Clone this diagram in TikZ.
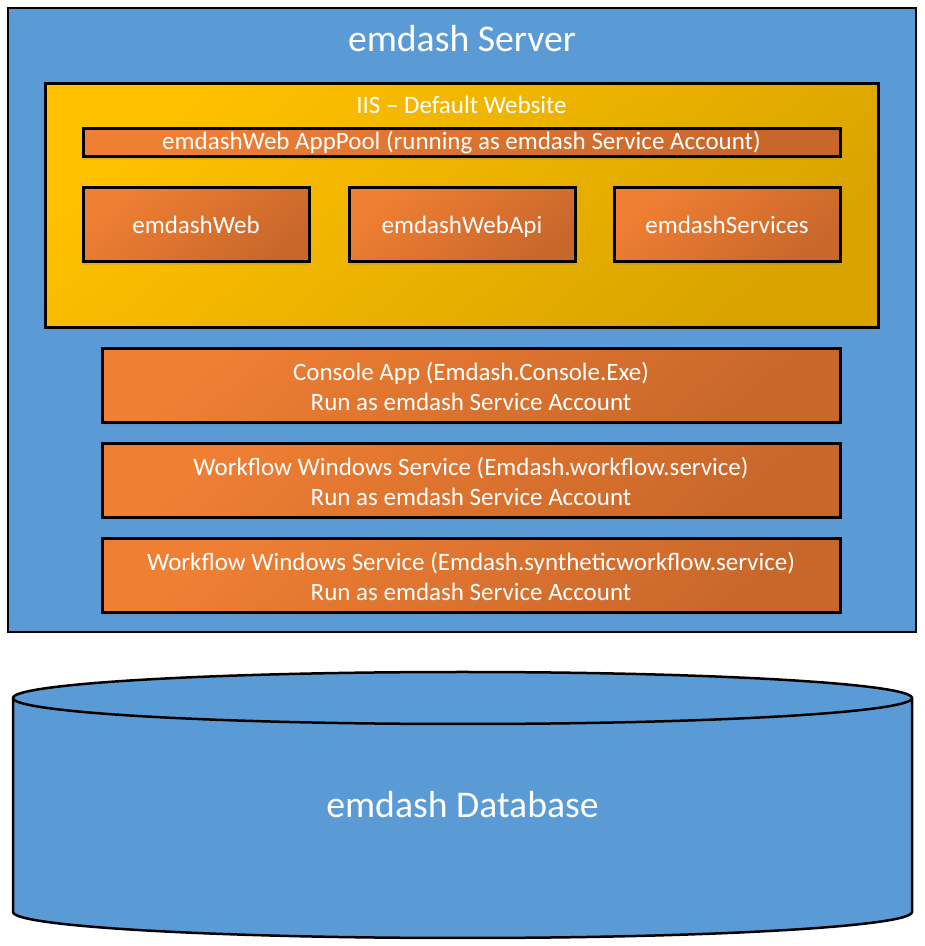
\documentclass[tikz,border=0pt]{standalone}
\usepackage{fontspec}
\setmainfont{Carlito}
\usetikzlibrary{positioning, shadows}
\definecolor{cblue}{HTML}{5B9BD5}
\definecolor{corange}{HTML}{EF7F33}
\definecolor{corangedk}{HTML}{C9672B}
\definecolor{cgold}{HTML}{FFC000}
\definecolor{cgolddk}{HTML}{D9A400}
\tikzset{
  every picture/.style={x=1pt, y=1pt, line width=2.5pt},
  panel/.style={draw=black, fill=cblue, minimum width=908pt, minimum height=624pt, inner sep=0pt, outer sep=0pt},
  site/.style={draw=black, line width=3pt, top color=cgold, bottom color=cgolddk, shading angle=40, minimum width=833pt, minimum height=244pt, inner sep=0pt, outer sep=0pt,
    drop shadow={opacity=.2, shadow xshift=0pt, shadow yshift=-3pt}},
  box/.style={draw=black, line width=3pt, top color=corange, bottom color=corangedk, shading angle=40, text=white, align=center, inner sep=0pt, outer sep=0pt,
    font=\fontsize{25}{30}\selectfont, drop shadow={opacity=.2, shadow xshift=0pt, shadow yshift=-3pt}},
  appbox/.style={box, minimum width=226pt, minimum height=74pt, text height=21pt, text depth=4pt},
  svcbox/.style={box, minimum width=738pt, minimum height=74pt},
  heading/.style={text=white, font=\fontsize{37.7}{45}\selectfont},
  small/.style={text=white, font=\fontsize{25}{30}\selectfont},
}

\begin{document}
\begin{tikzpicture}
  \useasboundingbox (0,0) rectangle (925,946);
  % server
  \node[panel] (server) at (462,626) {};
  \node[heading] (title) at (462,907) {emdash Server};
  % IIS site
  \node[site] (iis) at (461.5,740) {};
  \node[small] (iislbl) at (461.5,841) {IIS – Default Website};
  \node[box, minimum width=757pt, minimum height=28pt] (pool) at (461.5,803) {emdashWeb AppPool (running as emdash Service Account)};
  \node[appbox] (web) at (196,721) {emdashWeb};
  \node[appbox, right=40pt of web] (api) {emdashWebApi};
  \node[appbox, right=39pt of api] (svc) {emdashServices};
  % services outside IIS
  \node[svcbox] (con) at (471,560) {Console App (Emdash.Console.Exe)\\Run as emdash Service Account};
  \node[svcbox, below=21pt of con] (wf) {Workflow Windows Service (Emdash.workflow.service)\\Run as emdash Service Account};
  \node[svcbox, below=21pt of wf] (swf) {Workflow Windows Service (Emdash.syntheticworkflow.service)\\Run as emdash Service Account};
  % database
  \draw[fill=cblue] (13,248) -- (13,34) arc[start angle=180, end angle=360, x radius=449.5, y radius=26]
    -- (912,248) arc[start angle=0, end angle=180, x radius=449.5, y radius=26] -- cycle;
  \draw (13,248) arc[start angle=180, end angle=360, x radius=449.5, y radius=26];
  \node[heading] (db) at (462.5,141) {emdash Database};
\end{tikzpicture}
\end{document}
